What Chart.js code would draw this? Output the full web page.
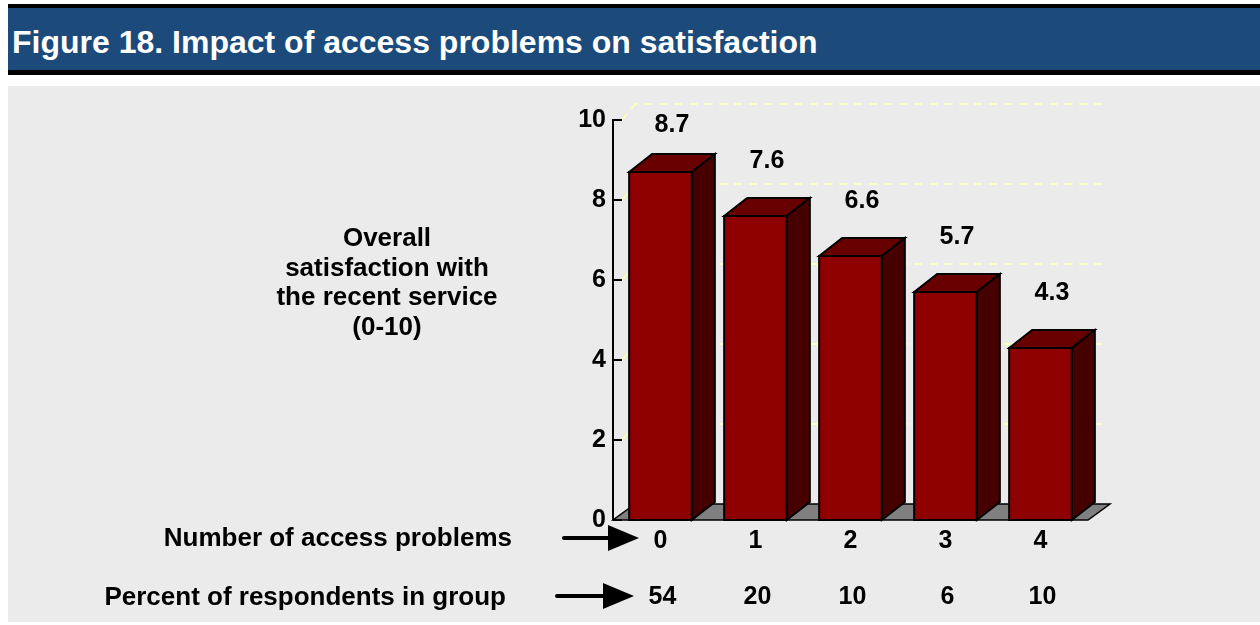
<!DOCTYPE html>
<html>
<head>
<meta charset="utf-8">
<script src="https://cdn.jsdelivr.net/npm/chart.js@4.4.1/dist/chart.umd.min.js"></script>
<style>
  html, body { margin:0; padding:0; background:#ffffff; width:1260px; height:625px; overflow:hidden; }
  body { position:relative; font-family:"Liberation Sans", Arial, sans-serif; }
  .hdrBlack { position:absolute; left:8px; top:4px; width:1252px; height:71px; background:#000; }
  .hdrBlue { position:absolute; left:8px; top:8px; width:1252px; height:62px; background:#1b4a7b; }
  .title { position:absolute; left:12px; top:22px; color:#fff; font-weight:bold; font-size:32px; line-height:40px; white-space:nowrap; }
  .panel { position:absolute; left:8px; top:86px; width:1252px; height:536px; background:#ebebeb; }
  canvas { position:absolute; left:0; top:0; }
  .ytitle { position:absolute; left:237px; top:223px; width:300px; text-align:center; font-weight:bold; font-size:26px; line-height:29.5px; color:#000; }
  .rowlab { position:absolute; left:0; text-align:right; font-weight:bold; font-size:26px; line-height:30px; color:#000; white-space:nowrap; }
</style>
</head>
<body>
<div class="hdrBlack"></div>
<div class="hdrBlue"></div>
<div class="title">Figure 18. Impact of access problems on satisfaction</div>
<div class="panel"></div>
<canvas id="c" width="1260" height="625"></canvas>
<div class="ytitle">Overall<br>satisfaction with<br>the recent service<br>(0-10)</div>
<div class="rowlab" style="width:512px; top:522px;">Number of access problems</div>
<div class="rowlab" style="width:506px; top:581px;">Percent of respondents in group</div>
<script>
// ---- data ----
const categories = ['0', '1', '2', '3', '4'];
const satisfaction = [8.7, 7.6, 6.6, 5.7, 4.3];
const percentInGroup = ['54', '20', '10', '6', '10'];
const yTicks = [0, 2, 4, 6, 8, 10];

// ---- style constants ----
const FONT = '"Liberation Sans", Arial, sans-serif';
const BAR_DX = 23, BAR_DY = -18;
const WALL_DX = 22, WALL_DY = -16;

const threeD = {
  id: 'threeD',
  beforeDatasetsDraw(chart) {
    const { ctx, chartArea: a, scales: { y } } = chart;
    ctx.save();
    // floor
    ctx.beginPath();
    ctx.moveTo(a.left, a.bottom);
    ctx.lineTo(a.right, a.bottom);
    ctx.lineTo(a.right + WALL_DX, a.bottom + WALL_DY);
    ctx.lineTo(a.left + WALL_DX, a.bottom + WALL_DY);
    ctx.closePath();
    ctx.fillStyle = '#808080';
    ctx.fill();
    ctx.lineWidth = 1.5;
    ctx.strokeStyle = '#000';
    ctx.stroke();
    // dashed back-wall gridlines
    ctx.setLineDash([8, 7]);
    ctx.strokeStyle = '#ffffc0';
    ctx.lineWidth = 2;
    yTicks.forEach(v => {
      if (v === 0) return;
      const py = y.getPixelForValue(v);
      ctx.beginPath();
      ctx.moveTo(a.left + 9, py);
      ctx.lineTo(a.left + WALL_DX, py + WALL_DY);
      ctx.lineTo(a.right + WALL_DX, py + WALL_DY);
      ctx.stroke();
    });
    ctx.setLineDash([]);
    // axis line + inward ticks
    ctx.strokeStyle = '#000';
    ctx.lineWidth = 2;
    ctx.beginPath();
    ctx.moveTo(a.left, y.getPixelForValue(yTicks[yTicks.length - 1]) - 1);
    ctx.lineTo(a.left, a.bottom);
    yTicks.forEach(v => {
      const py = y.getPixelForValue(v);
      ctx.moveTo(a.left, py);
      ctx.lineTo(a.left + 9, py);
    });
    ctx.stroke();
    ctx.restore();
  },
  afterDatasetsDraw(chart) {
    const { ctx } = chart;
    const meta = chart.getDatasetMeta(0);
    ctx.save();
    ctx.lineWidth = 2;
    ctx.strokeStyle = '#000';
    ctx.lineJoin = 'miter';
    meta.data.forEach((bar, i) => {
      const p = bar.getProps(['x', 'y', 'base', 'width'], true);
      const L = p.x - p.width / 2, R = p.x + p.width / 2, T = p.y, B = p.base;
      // top face
      ctx.beginPath();
      ctx.moveTo(L, T); ctx.lineTo(L + BAR_DX, T + BAR_DY);
      ctx.lineTo(R + BAR_DX, T + BAR_DY); ctx.lineTo(R, T); ctx.closePath();
      ctx.fillStyle = '#680000'; ctx.fill(); ctx.stroke();
      // side face
      ctx.beginPath();
      ctx.moveTo(R, T); ctx.lineTo(R + BAR_DX, T + BAR_DY);
      ctx.lineTo(R + BAR_DX, B + BAR_DY); ctx.lineTo(R, B); ctx.closePath();
      ctx.fillStyle = '#470000'; ctx.fill(); ctx.stroke();
      // front outline
      ctx.strokeRect(L, T, R - L, B - T);
      // value label
      ctx.fillStyle = '#000';
      ctx.font = 'bold 25px ' + FONT;
      ctx.textAlign = 'center';
      ctx.textBaseline = 'middle';
      const off = i === 0 ? 29 : 37;
      ctx.fillText(satisfaction[i].toFixed(1), p.x + BAR_DX / 2, T + BAR_DY - off);
    });
    ctx.restore();
  },
  afterDraw(chart) {
    const { ctx, scales: { x } } = chart;
    ctx.save();
    // percent-of-respondents row, aligned to the category scale
    ctx.fillStyle = '#000';
    ctx.font = 'bold 25px ' + FONT;
    ctx.textAlign = 'center';
    ctx.textBaseline = 'middle';
    percentInGroup.forEach((t, i) => {
      ctx.fillText(t, x.getPixelForValue(i) + 2, 597);
    });
    // arrows
    ctx.strokeStyle = '#000';
    ctx.lineCap = 'round';
    ctx.lineWidth = 4;
    const arrows = [
      { x0: 564, x1: 610, y: 538, tip: 639, h: 13 },
      { x0: 557, x1: 605, y: 596, tip: 634, h: 13 }
    ];
    arrows.forEach(ar => {
      ctx.beginPath();
      ctx.moveTo(ar.x0, ar.y); ctx.lineTo(ar.x1, ar.y); ctx.stroke();
      ctx.beginPath();
      ctx.moveTo(ar.x1 - 2, ar.y - ar.h);
      ctx.lineTo(ar.tip, ar.y);
      ctx.lineTo(ar.x1 - 2, ar.y + ar.h);
      ctx.closePath();
      ctx.fill();
    });
    ctx.restore();
  }
};

new Chart(document.getElementById('c'), {
  type: 'bar',
  data: {
    labels: categories,
    datasets: [{
      data: satisfaction,
      backgroundColor: '#8f0000',
      borderColor: '#000',
      borderWidth: 0,
      categoryPercentage: 1,
      barPercentage: 0.66
    }]
  },
  options: {
    responsive: false,
    animation: false,
    events: [],
    layout: { padding: { left: 553, right: 172, top: 120, bottom: 45 } },
    plugins: { legend: { display: false }, tooltip: { enabled: false }, title: { display: false } },
    scales: {
      x: {
        grid: { display: false, drawTicks: false },
        border: { display: false },
        ticks: {
          color: '#000',
          padding: 6,
          maxRotation: 0,
          autoSkip: false,
          font: { family: FONT, size: 25, weight: 'bold' }
        },
        afterFit(s) { s.height = 60; }
      },
      y: {
        min: 0, max: 10,
        grid: { display: false, drawTicks: false },
        border: { display: false },
        afterBuildTicks(s) { s.ticks = yTicks.map(v => ({ value: v })); },
        ticks: {
          color: '#000',
          padding: 7,
          font: { family: FONT, size: 25, weight: 'bold' }
        },
        afterFit(s) { s.width = 60; }
      }
    }
  },
  plugins: [threeD]
});
</script>
</body>
</html>
